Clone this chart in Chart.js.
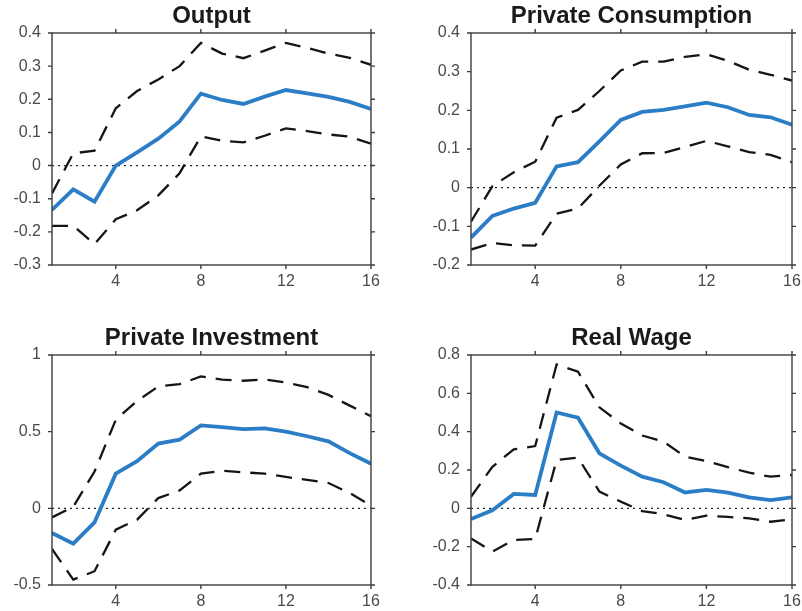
<!DOCTYPE html>
<html>
<head>
<meta charset="utf-8">
<script src="https://cdn.jsdelivr.net/npm/chart.js@4.4.0/dist/chart.umd.min.js"></script>
<style>
  body { margin: 0; background: #fff; }
  .panel { position: absolute; }
</style>
</head>
<body>
<canvas id="c1" class="panel" width="400" height="300" style="left:0;top:0"></canvas>
<canvas id="c2" class="panel" width="402" height="300" style="left:400px;top:0"></canvas>
<canvas id="c3" class="panel" width="400" height="291" style="left:0;top:320px"></canvas>
<canvas id="c4" class="panel" width="402" height="291" style="left:400px;top:320px"></canvas>
<script>
// horizon (quarters)
let horizons = [1, 2, 3, 4, 5, 6, 7, 8, 9, 10, 11, 12, 13, 14, 15, 16];
let xTicks = [4, 8, 12, 16];

let titles = ["Output", "Private Consumption", "Private Investment", "Real Wage"];

// Output
let outputMid   = [-0.134, -0.072, -0.109, 0.0, 0.04, 0.081, 0.133, 0.217, 0.198, 0.186, 0.208, 0.228, 0.218, 0.207, 0.192, 0.171];
let outputUpper = [-0.084, 0.037, 0.045, 0.173, 0.225, 0.26, 0.30, 0.37, 0.338, 0.324, 0.347, 0.37, 0.355, 0.338, 0.325, 0.304];
let outputLower = [-0.182, -0.182, -0.237, -0.162, -0.135, -0.09, -0.023, 0.088, 0.075, 0.07, 0.09, 0.112, 0.104, 0.094, 0.087, 0.066];

// Private Consumption
let consMid   = [-0.129, -0.073, -0.054, -0.039, 0.055, 0.066, 0.12, 0.175, 0.196, 0.201, 0.21, 0.22, 0.208, 0.188, 0.182, 0.163];
let consUpper = [-0.088, 0.004, 0.04, 0.067, 0.181, 0.201, 0.25, 0.303, 0.326, 0.326, 0.338, 0.345, 0.328, 0.305, 0.292, 0.277];
let consLower = [-0.16, -0.143, -0.149, -0.15, -0.067, -0.054, 0.005, 0.06, 0.089, 0.09, 0.105, 0.121, 0.107, 0.092, 0.085, 0.066];

// Private Investment
let invMid   = [-0.161, -0.23, -0.091, 0.226, 0.307, 0.422, 0.448, 0.541, 0.53, 0.517, 0.522, 0.5, 0.47, 0.437, 0.36, 0.291];
let invUpper = [-0.059, 0.01, 0.24, 0.578, 0.70, 0.795, 0.81, 0.86, 0.84, 0.832, 0.84, 0.82, 0.79, 0.74, 0.67, 0.60];
let invLower = [-0.265, -0.465, -0.41, -0.139, -0.074, 0.067, 0.117, 0.226, 0.245, 0.235, 0.226, 0.205, 0.185, 0.165, 0.10, 0.017];

// Real Wage
let wageMid   = [-0.056, -0.01, 0.075, 0.07, 0.5, 0.473, 0.287, 0.223, 0.165, 0.136, 0.083, 0.096, 0.082, 0.057, 0.043, 0.057];
let wageUpper = [0.06, 0.217, 0.308, 0.325, 0.751, 0.713, 0.527, 0.443, 0.38, 0.348, 0.27, 0.247, 0.215, 0.186, 0.165, 0.174];
let wageLower = [-0.157, -0.226, -0.165, -0.16, 0.252, 0.264, 0.087, 0.035, -0.014, -0.031, -0.061, -0.038, -0.045, -0.052, -0.07, -0.057];

const tickFont = { family: "'Liberation Sans', Arial, sans-serif", size: 16 };
const tickColor = "#4a4a4a";
const axisColor = "#3c3c3c";

function toPoints(arr) {
  return horizons.map((h, i) => ({ x: h, y: arr[i] }));
}

// box, outward ticks, dotted zero line and title, MATLAB style
const framePlugin = {
  id: "frame",
  beforeDatasetsDraw(chart) {
    let ctx = chart.ctx;
    let a = chart.chartArea;
    let y0 = chart.scales.y.getPixelForValue(0);
    ctx.save();
    ctx.strokeStyle = "#222";
    ctx.lineWidth = 1.2;
    ctx.setLineDash([2, 4]);
    ctx.beginPath();
    ctx.moveTo(a.left, y0);
    ctx.lineTo(a.right, y0);
    ctx.stroke();
    ctx.restore();
  },
  afterDraw(chart) {
    let ctx = chart.ctx;
    let a = chart.chartArea;
    let xs = chart.scales.x, ys = chart.scales.y;
    ctx.save();
    ctx.strokeStyle = axisColor;
    ctx.lineWidth = 1.4;
    ctx.strokeRect(a.left, a.top, a.right - a.left, a.bottom - a.top);
    ctx.beginPath();
    ys.ticks.forEach(t => {
      let y = ys.getPixelForValue(t.value);
      ctx.moveTo(a.left - 4, y); ctx.lineTo(a.left, y);
      ctx.moveTo(a.right, y); ctx.lineTo(a.right + 4, y);
    });
    xs.ticks.forEach(t => {
      let x = xs.getPixelForValue(t.value);
      ctx.moveTo(x, a.bottom); ctx.lineTo(x, a.bottom + 4);
      ctx.moveTo(x, a.top); ctx.lineTo(x, a.top - 4);
    });
    ctx.stroke();
    ctx.fillStyle = "#1a1a1a";
    ctx.font = "bold 24px 'Liberation Sans', Arial, sans-serif";
    ctx.textAlign = "center";
    ctx.textBaseline = "alphabetic";
    ctx.fillText(chart.options.plugins.frame.title, (a.left + a.right) / 2, a.top - 10);
    ctx.restore();
  }
};

function makeChart(id, title, mid, upper, lower, yMin, yMax, step, box) {
  let ctx = document.getElementById(id).getContext("2d");
  return new Chart(ctx, {
    type: "line",
    data: {
      datasets: [
        {
          data: toPoints(upper),
          borderColor: "#151515",
          borderWidth: 2.3,
          borderDash: [16, 10],
          pointRadius: 0
        },
        {
          data: toPoints(lower),
          borderColor: "#151515",
          borderWidth: 2.3,
          borderDash: [16, 10],
          pointRadius: 0
        },
        {
          data: toPoints(mid),
          borderColor: "#2b7dc6",
          borderWidth: 3.8,
          pointRadius: 0
        }
      ]
    },
    options: {
      responsive: false,
      animation: false,
      layout: { padding: { left: 0, top: box.top, right: box.right, bottom: 0 } },
      plugins: {
        legend: { display: false },
        tooltip: { enabled: false },
        frame: { title: title }
      },
      scales: {
        x: {
          type: "linear",
          min: 1,
          max: 16,
          afterBuildTicks: s => { s.ticks = xTicks.map(v => ({ value: v })); },
          afterFit: s => { s.height = box.xh; s.paddingLeft = 0; s.paddingRight = 0; },
          grid: { display: false, drawTicks: false },
          border: { display: false },
          ticks: { font: tickFont, color: tickColor, padding: 7, maxRotation: 0 }
        },
        y: {
          min: yMin,
          max: yMax,
          afterFit: s => { s.width = box.yw; s.paddingTop = 0; s.paddingBottom = 0; },
          grid: { display: false, drawTicks: false },
          border: { display: false },
          ticks: {
            stepSize: step,
            font: tickFont,
            color: tickColor,
            padding: 11,
            callback: v => String(Number(v.toFixed(2)))
          }
        }
      }
    },
    plugins: [framePlugin]
  });
}

document.addEventListener("DOMContentLoaded", () => {
  makeChart("c1", titles[0], outputMid, outputUpper, outputLower, -0.3, 0.4, 0.1,
    { top: 33, right: 29, yw: 52, xh: 35 });
  makeChart("c2", titles[1], consMid, consUpper, consLower, -0.2, 0.4, 0.1,
    { top: 33, right: 10, yw: 71, xh: 35 });
  makeChart("c3", titles[2], invMid, invUpper, invLower, -0.5, 1, 0.5,
    { top: 35, right: 29, yw: 52, xh: 26 });
  makeChart("c4", titles[3], wageMid, wageUpper, wageLower, -0.4, 0.8, 0.2,
    { top: 35, right: 10, yw: 71, xh: 26 });
});
</script>
</body>
</html>
